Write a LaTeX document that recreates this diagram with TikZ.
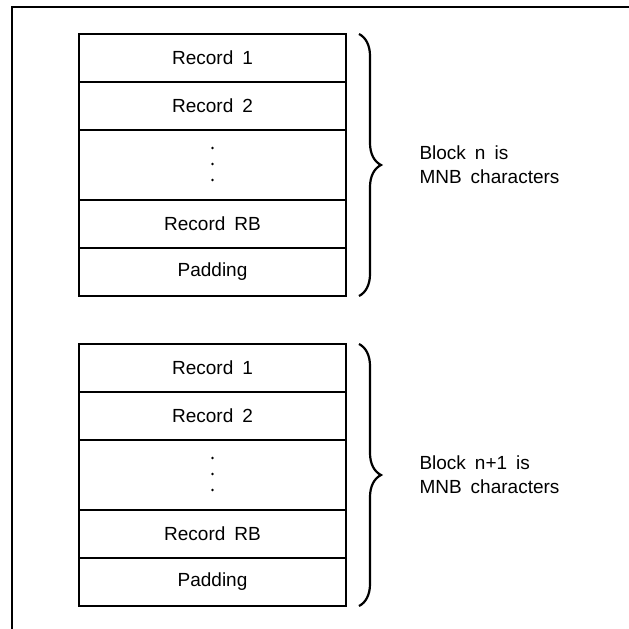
\documentclass[tikz,border=0pt]{standalone}
\usepackage{fontspec}
\setmainfont{Liberation Sans}
\usetikzlibrary{positioning,calc}
\usetikzlibrary{decorations.pathreplacing}

\newcommand{\rfont}{\fontsize{19}{24}\selectfont\spaceskip=9pt}

\tikzset{
    row/.style={draw,line width=1.4pt,minimum width=267pt,minimum height=48pt,
        outer sep=0pt,inner sep=0pt,font=\rfont,align=center},
    blockbrace/.style={decorate,decoration={brace,amplitude=22pt},line width=2.2pt},
    blocktext/.style={font=\rfont,align=left,anchor=west}
}

\begin{document}
\begin{tikzpicture}[x=1pt,y=-1pt]
            \useasboundingbox (0,0) rectangle (629,629);
            \draw[line width=2.2pt] (12,629) -- (12,7) -- (629,7);
            \foreach \b/\top/\lbl in {1/34/n,2/344/n+1}
            {
                \node[row,anchor=north west] (r1-\b) at (79,\top) {Record 1};
                \node[row,below=0pt of r1-\b] (r2-\b) {Record 2};
                \node[row,below=0pt of r2-\b,minimum height=70pt] (dots-\b) {};
                \node[row,below=0pt of dots-\b] (rb-\b) {Record RB};
                \node[row,below=0pt of rb-\b] (pad-\b) {Padding};
                \foreach \d in {-17,-1,15}
                    \fill ($(dots-\b.center)+(0,\d)$) circle (1.3pt);
                \coordinate (bt-\b) at ($(r1-\b.north east)+(13,0)$);
                \coordinate (bb-\b) at ($(pad-\b.south east)+(13,0)$);
                \draw[blockbrace] (bt-\b) -- (bb-\b);
                \node[blocktext,right=70pt of dots-\b] (lab-\b) {Block \lbl\ is\\MNB characters};
            }
        \end{tikzpicture}
\end{document}
